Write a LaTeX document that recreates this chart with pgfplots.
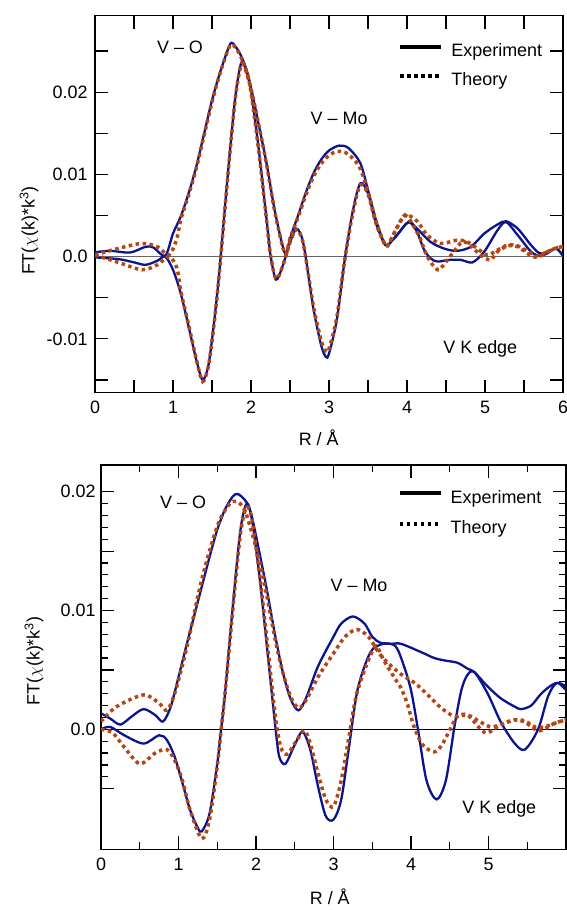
\documentclass[border=0pt]{standalone}
\usepackage{fontspec}
\setmainfont{Liberation Sans}
\usepackage{pgfplots}
\pgfplotsset{compat=1.18}
\definecolor{expblue}{RGB}{10,20,140}
\definecolor{theo}{RGB}{180,70,20}
\newcommand{\bigf}{\fontsize{18}{21}\selectfont}
\pgfplotsset{
  common/.style={
    scale only axis,
    xmin=0, xmax=6,
    axis line style={line width=1.5bp},
    every tick/.style={line width=1.2bp, black},
    tick align=inside,
    xtick pos=both, ytick pos=both,
    scaled y ticks=false, scaled x ticks=false,
    tick label style={font=\bigf},
    label style={font=\bigf},
    xlabel={R / Å},
    ylabel={FT($\chi$(k)*k\textsuperscript{3})},
    legend cell align=left,
    legend image code/.code={\draw[##1] (0bp,4bp) -- (41bp,4bp);},
    legend style={draw=none, fill=none, font=\bigf, column sep=8bp,
      inner sep=0pt, nodes={inner sep=0pt}, anchor=north west},
  },
  exp/.style={expblue, line width=2.3bp, smooth, forget plot},
  th/.style={theo, line width=3.5bp, dash pattern=on 3.5bp off 3.5bp, smooth, forget plot},
}
\begin{document}
\begin{tikzpicture}
\useasboundingbox (0bp,0bp) rectangle (567bp,910bp);
% ---------------- top panel ----------------
\begin{axis}[common,
  at={(95bp,517.3bp)}, anchor=south west,
  width=468bp, height=377bp,
  ymin=-0.01655, ymax=0.0293,
  xtick={0,1,2,3,4,5,6}, xticklabels={0,1,2,3,4,5,6},
  minor xtick={0.5,1.5,2.5,3.5,4.5,5.5},
  ytick={-0.01,0,0.01,0.02}, yticklabels={-0.01,0.0,0.01,0.02},
  minor ytick={-0.015,-0.005,0.005,0.015,0.025},
  major tick length=13bp, minor tick length=13bp,
  yticklabel style={xshift=-4bp},
  xticklabel style={yshift=-5bp},
  xlabel style={at={(axis description cs:0.478,0)}, anchor=center, yshift=-45bp},
  ylabel style={at={(axis description cs:-0.141,0.43)}, anchor=center},
  legend style={at={(axis description cs:0.648,0.927)}, row sep=15bp},
]
\addplot[gray!80!black, line width=1.3bp, forget plot] coordinates {(0,0) (6,0)};
% experiment magnitude
\addplot[exp] coordinates {(0,0.00053)(0.2,0.0007)(0.45,0.0005)(0.65,0.0012)(0.75,0.0011)(0.9,0.0001)(1.0,0.0028)(1.1,0.0049)(1.2,0.0077)(1.3,0.011)(1.4,0.015)(1.5,0.019)(1.6,0.0223)(1.7,0.0251)(1.75,0.026)(1.82,0.0253)(1.9,0.0238)(2.0,0.0205)(2.1,0.016)(2.2,0.0113)(2.3,0.0058)(2.4,0.0015)(2.45,0.0003)(2.5,0.0022)(2.6,0.0049)(2.7,0.0077)(2.8,0.0101)(2.9,0.0118)(3.0,0.0129)(3.13,0.0135)(3.25,0.0132)(3.4,0.0114)(3.5,0.0081)(3.6,0.0045)(3.7,0.0018)(3.75,0.0014)(3.87,0.0026)(4.02,0.0042)(4.13,0.0034)(4.3,0.0018)(4.47,0.001)(4.64,0.0007)(4.82,0.0012)(4.99,0.0028)(5.16,0.0039)(5.27,0.0043)(5.42,0.0034)(5.59,0.0014)(5.7,0.0004)(5.8,0.0005)(5.91,0.001)(6.0,0.0001)};
% experiment imaginary part
\addplot[exp] coordinates {(0,-0.0001)(0.3,-0.0003)(0.5,-0.0007)(0.65,-0.001)(0.8,-0.0005)(0.9,0)(1.0,-0.0016)(1.1,-0.0045)(1.2,-0.0085)(1.3,-0.0126)(1.38,-0.015)(1.45,-0.0134)(1.5,-0.0101)(1.55,-0.006)(1.6,-0.0012)(1.7,0.0097)(1.8,0.0195)(1.88,0.0237)(1.95,0.0225)(2.0,0.0202)(2.1,0.013)(2.2,0.0045)(2.25,0.0002)(2.32,-0.0028)(2.4,-0.0013)(2.5,0.0017)(2.58,0.0034)(2.65,0.0024)(2.7,0.0)(2.8,-0.0063)(2.9,-0.0108)(2.96,-0.0122)(3.0,-0.0118)(3.1,-0.0077)(3.2,-0.0005)(3.3,0.0053)(3.4,0.0089)(3.5,0.0077)(3.6,0.0041)(3.7,0.0018)(3.75,0.0014)(3.87,0.0026)(4.02,0.0042)(4.13,0.003)(4.21,0.001)(4.3,-0.0002)(4.39,-0.0006)(4.54,-0.0004)(4.69,-0.0004)(4.84,-0.0007)(4.99,0.0006)(5.16,0.0032)(5.27,0.0042)(5.42,0.0026)(5.59,0.0006)(5.7,0.0001)(5.8,0.0004)(5.91,0.001)(6.0,0.0001)};
% theory magnitude
\addplot[th] coordinates {(0,0.0002)(0.3,0.001)(0.6,0.0016)(0.8,0.0012)(0.95,0.0002)(1.05,0.0022)(1.1,0.0045)(1.2,0.0075)(1.3,0.0108)(1.4,0.0148)(1.5,0.0188)(1.6,0.0222)(1.7,0.025)(1.75,0.0258)(1.82,0.0252)(1.9,0.0236)(2.0,0.0204)(2.1,0.016)(2.2,0.0112)(2.3,0.0057)(2.4,0.0014)(2.45,0.0003)(2.5,0.0022)(2.6,0.0047)(2.7,0.0074)(2.8,0.0097)(2.9,0.0113)(3.0,0.0123)(3.1,0.0128)(3.2,0.0127)(3.3,0.012)(3.4,0.0107)(3.5,0.0079)(3.6,0.0044)(3.7,0.0018)(3.75,0.0013)(3.87,0.0035)(3.98,0.0051)(4.13,0.0043)(4.26,0.0026)(4.43,0.0016)(4.64,0.002)(4.77,0.0018)(4.9,0.001)(5.03,0.0002)(5.16,0.0008)(5.29,0.0014)(5.42,0.0013)(5.59,0.0004)(5.67,0.0001)(5.8,0.0006)(5.93,0.0011)(6.0,0.0012)};
% theory imaginary part
\addplot[th] coordinates {(0,0.0002)(0.3,-0.0007)(0.6,-0.0016)(0.8,-0.001)(0.95,0)(1.05,-0.0014)(1.1,-0.0042)(1.2,-0.0083)(1.3,-0.0125)(1.38,-0.0152)(1.45,-0.0135)(1.5,-0.0103)(1.55,-0.0062)(1.6,-0.0014)(1.7,0.0095)(1.8,0.0193)(1.88,0.0235)(1.95,0.0223)(2.0,0.02)(2.1,0.0128)(2.2,0.0044)(2.25,0.0002)(2.32,-0.0027)(2.4,-0.0013)(2.5,0.0017)(2.58,0.0033)(2.65,0.0023)(2.7,0.0)(2.8,-0.006)(2.9,-0.0102)(2.96,-0.0115)(3.0,-0.0112)(3.1,-0.0074)(3.2,-0.0005)(3.3,0.005)(3.4,0.0087)(3.5,0.0076)(3.6,0.0041)(3.7,0.0018)(3.75,0.0013)(3.87,0.0035)(3.98,0.005)(4.08,0.0038)(4.17,0.0022)(4.26,0)(4.39,-0.0016)(4.47,-0.001)(4.6,0.0006)(4.71,0.0018)(4.82,0.0013)(4.94,0.0002)(5.07,-0.0004)(5.16,0.0006)(5.29,0.0013)(5.42,0.0012)(5.54,0.0004)(5.67,-0.0001)(5.8,0.0006)(5.93,0.0011)(6.0,0.0012)};
\addlegendimage{black, line width=4bp}
\addlegendentry{Experiment}
\addlegendimage{black, line width=4bp, dash pattern=on 3.5bp off 3.5bp}
\addlegendentry{Theory}
\node[font=\bigf] at (axis cs:1.09,0.0254) {V – O};
\node[font=\bigf] at (axis cs:3.13,0.01675) {V – Mo};
\node[font=\bigf] at (axis cs:4.94,-0.0112) {V K edge};
\end{axis}
% ---------------- bottom panel ----------------
\begin{axis}[common,
  at={(101bp,60.7bp)}, anchor=south west,
  width=465bp, height=384.3bp,
  ymin=-0.0101, ymax=0.02225,
  xtick={0,1,2,3,4,5}, xticklabels={0,1,2,3,4,5},
  minor xtick={0.5,1.5,2.5,3.5,4.5,5.5},
  ytick={-0.005,0,0.005,0.01,0.015,0.02}, yticklabels={,0.0,,0.01,,0.02},
  minor y tick num=4,
  major tick length=13bp, minor tick length=7bp,
  yticklabel style={xshift=-2bp},
  xticklabel style={yshift=-5bp},
  xlabel style={at={(axis description cs:0.492,0)}, anchor=center, yshift=-47bp},
  ylabel style={at={(axis description cs:-0.144,0.49)}, anchor=center},
  legend style={at={(axis description cs:0.6376,0.935)}, row sep=16bp},
]
\addplot[black, line width=1.3bp, forget plot] coordinates {(0,0) (6,0)};
% experiment magnitude
\addplot[exp] coordinates {(0,0.00135)(0.12,0.0009)(0.25,0.0004)(0.4,0.0011)(0.55,0.0017)(0.7,0.0012)(0.8,0.00065)(0.9,0.0019)(1.0,0.0044)(1.1,0.007)(1.2,0.0095)(1.3,0.012)(1.4,0.0145)(1.5,0.0168)(1.6,0.0185)(1.7,0.0196)(1.77,0.0198)(1.88,0.0191)(1.95,0.0178)(2.05,0.0147)(2.15,0.0114)(2.25,0.0078)(2.35,0.0047)(2.45,0.0025)(2.55,0.0016)(2.65,0.0027)(2.8,0.0053)(3.0,0.0078)(3.1,0.0089)(3.25,0.0095)(3.4,0.0089)(3.5,0.0078)(3.6,0.0073)(3.75,0.0072)(3.87,0.0072)(4.13,0.0065)(4.3,0.006)(4.43,0.0058)(4.6,0.0056)(4.73,0.0051)(4.82,0.0048)(4.99,0.0036)(5.16,0.0026)(5.34,0.0019)(5.42,0.0017)(5.55,0.002)(5.68,0.003)(5.81,0.0037)(5.9,0.0039)(6.0,0.0033)};
% experiment imaginary part
\addplot[exp] coordinates {(0,0)(0.12,0.0002)(0.3,-0.0005)(0.55,-0.0012)(0.75,-0.0005)(0.85,-0.0009)(0.95,-0.0023)(1.05,-0.0045)(1.15,-0.0068)(1.25,-0.0083)(1.3,-0.0086)(1.4,-0.0071)(1.5,-0.0029)(1.55,0)(1.6,0.003)(1.7,0.0103)(1.8,0.0168)(1.88,0.019)(1.95,0.0176)(2.05,0.0126)(2.15,0.0064)(2.25,0.0002)(2.3,-0.0023)(2.38,-0.0029)(2.5,-0.0013)(2.6,-0.0002)(2.7,-0.0017)(2.8,-0.0048)(2.9,-0.0073)(3.0,-0.0076)(3.1,-0.0059)(3.2,-0.0015)(3.3,0.003)(3.4,0.0053)(3.5,0.0067)(3.65,0.0072)(3.8,0.007)(3.9,0.0055)(4.0,0.0033)(4.09,0)(4.2,-0.0043)(4.33,-0.0059)(4.45,-0.0043)(4.56,0.0002)(4.65,0.0033)(4.73,0.0046)(4.82,0.0048)(4.99,0.003)(5.16,0.0006)(5.34,-0.0012)(5.47,-0.0017)(5.64,0)(5.77,0.0028)(5.88,0.0039)(6.0,0.0036)};
% theory magnitude
\addplot[th] coordinates {(0,0.00065)(0.2,0.0019)(0.55,0.0029)(0.75,0.0022)(0.85,0.0016)(0.95,0.003)(1.1,0.0067)(1.3,0.0126)(1.5,0.0171)(1.65,0.0189)(1.75,0.0192)(1.85,0.0185)(1.95,0.0165)(2.05,0.014)(2.15,0.0109)(2.25,0.0075)(2.35,0.0047)(2.45,0.0027)(2.55,0.0018)(2.65,0.0025)(2.8,0.0044)(3.0,0.0064)(3.15,0.0078)(3.3,0.0084)(3.45,0.0078)(3.6,0.0063)(3.75,0.0053)(3.9,0.0045)(4.05,0.0039)(4.2,0.003)(4.39,0.0018)(4.56,0.0011)(4.73,0.0012)(4.9,0.0006)(5.03,0.0002)(5.16,0.0004)(5.34,0.0008)(5.47,0.0007)(5.6,0.0002)(5.72,0.0002)(5.85,0.0005)(6.0,0.0008)};
% theory imaginary part
\addplot[th] coordinates {(0,0)(0.15,-0.0003)(0.3,-0.0015)(0.5,-0.0029)(0.7,-0.002)(0.85,-0.0017)(0.95,-0.0026)(1.05,-0.0043)(1.15,-0.0068)(1.3,-0.0092)(1.4,-0.0076)(1.5,-0.0031)(1.55,0)(1.6,0.003)(1.7,0.01)(1.8,0.0165)(1.88,0.0187)(1.95,0.0176)(2.05,0.0128)(2.15,0.007)(2.25,0.0011)(2.32,-0.0015)(2.4,-0.0021)(2.5,-0.0012)(2.62,-0.0001)(2.7,-0.0012)(2.8,-0.0037)(2.9,-0.0059)(3.0,-0.0065)(3.1,-0.0043)(3.2,-0.0006)(3.3,0.003)(3.45,0.0058)(3.55,0.007)(3.65,0.0058)(3.8,0.0042)(3.87,0.0035)(3.95,0.0022)(4.04,0.0002)(4.15,-0.0013)(4.3,-0.0019)(4.4,-0.0013)(4.52,0.0002)(4.6,0.0011)(4.73,0.0012)(4.9,0)(4.99,-0.0003)(5.16,0.0004)(5.34,0.0008)(5.47,0.0006)(5.6,0)(5.68,-0.0001)(5.85,0.0005)(6.0,0.0008)};
\addlegendimage{black, line width=4bp}
\addlegendentry{Experiment}
\addlegendimage{black, line width=4bp, dash pattern=on 3.5bp off 3.5bp}
\addlegendentry{Theory}
\node[font=\bigf] at (axis cs:1.06,0.0191) {V – O};
\node[font=\bigf] at (axis cs:3.33,0.01215) {V – Mo};
\node[font=\bigf] at (axis cs:5.14,-0.0067) {V K edge};
\end{axis}
\end{tikzpicture}
\end{document}
